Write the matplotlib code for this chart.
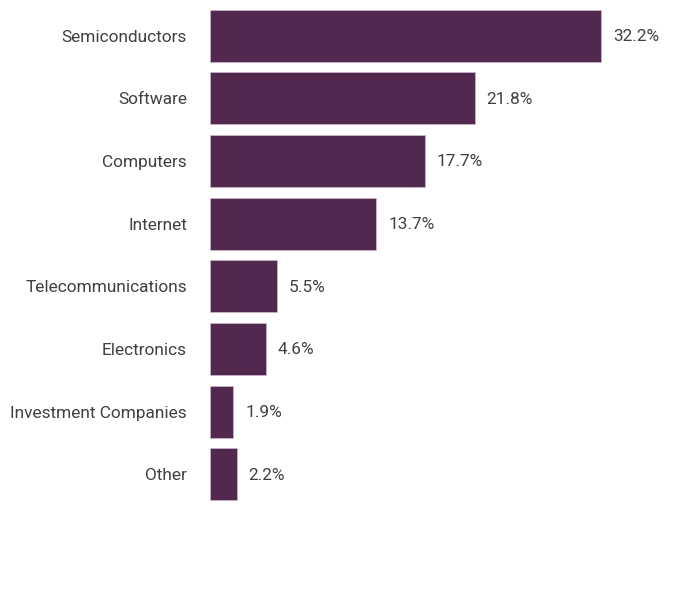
import matplotlib.pyplot as plt

# Sector weights
sectors = ['Semiconductors', 'Software', 'Computers', 'Internet',
           'Telecommunications', 'Electronics', 'Investment Companies', 'Other']
weights = [32.2, 21.8, 17.7, 13.7, 5.5, 4.6, 1.9, 2.2]

bar_color = '#52284F'
text_color = '#404040'
plt.rcParams['font.family'] = ['Roboto', 'DejaVu Sans']

fig = plt.figure(figsize=(6.96, 6.0), dpi=100)
# axes placed in pixel terms: left 210, top ~4, bottom of last slot ~505
ax = fig.add_axes([210 / 696, (600 - 505.5) / 600, (696 - 210) / 696, (505.5 - 4.2) / 600])

y = list(range(len(sectors)))
ax.barh(y, weights, height=0.83, color=bar_color, edgecolor='#c9b3c7', linewidth=0.6)

for yi, w in zip(y, weights):
    ax.annotate(f'{w}%', (w, yi), xytext=(12, -1), textcoords='offset pixels',
                va='center', ha='left', fontsize=12.4, color=text_color)

ax.set_yticks(y)
ax.set_yticklabels(sectors, fontsize=12.4, color=text_color)
ax.tick_params(axis='y', length=0, pad=16.5)
ax.set_xticks([])
ax.set_xlim(0, (696 - 210) / (391 / 32.2))
ax.set_ylim(7.5, -0.5)
for s in ax.spines.values():
    s.set_visible(False)

fig.savefig('out.png', dpi=100)
